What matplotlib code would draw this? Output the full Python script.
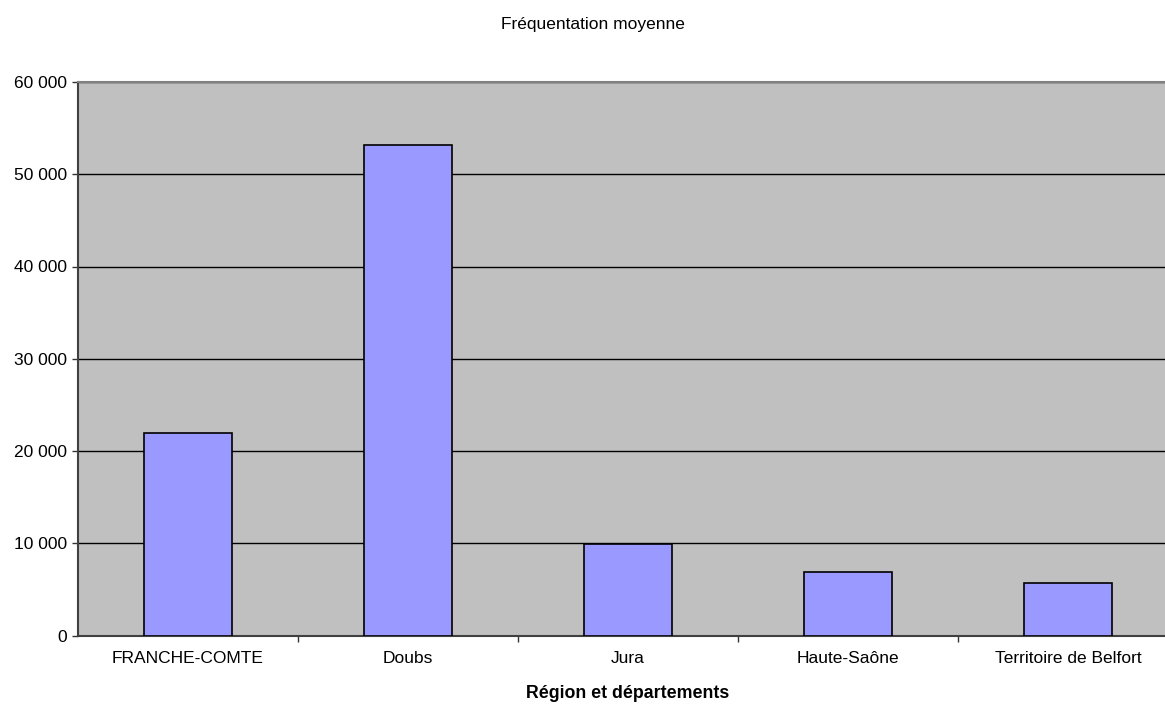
import matplotlib
matplotlib.use("Agg")
import matplotlib.pyplot as plt
from matplotlib.ticker import FuncFormatter, MultipleLocator

plt.rcParams['font.family'] = ['Liberation Sans', 'DejaVu Sans']

categories = ["FRANCHE-COMTE", "Doubs", "Jura", "Haute-Saône", "Territoire de Belfort"]
values = [21900, 53200, 9960, 6900, 5700]
title = "Fréquentation moyenne"
xlabel = "Région et départements"

W, H = 1165, 704
fig = plt.figure(figsize=(W / 100, H / 100), dpi=100)
ax = fig.add_axes([78 / W, 1 - 635.5 / H, 1100 / W, 553.5 / H])
ax.set_facecolor("#C0C0C0")

x = range(len(categories))
ax.bar(x, values, width=0.4, color="#9999FF", edgecolor="black", linewidth=1.2, zorder=3)

ax.set_xlim(-0.5, len(categories) - 0.5)
ax.set_ylim(0, 60000)
ax.yaxis.set_major_locator(MultipleLocator(10000))
ax.yaxis.set_major_formatter(FuncFormatter(lambda v, p: f"{v:,.0f}".replace(",", " ")))
ax.grid(axis="y", color="black", linewidth=1.0, zorder=1)
ax.set_axisbelow(True)

ax.set_xticks([i + 0.5 for i in range(len(categories) - 1)], minor=False)
ax.set_xticklabels([])
ax.set_xticks(list(x), minor=True)
ax.set_xticklabels(categories, minor=True)
ax.tick_params(axis="x", which="minor", length=0, pad=11.5, labelsize=12.5)
ax.tick_params(axis="x", which="major", length=4, width=1, color="#333333", direction="out")
ax.tick_params(axis="y", length=4, width=1, color="#333333", pad=4, labelsize=12.5)

for s in ["left", "bottom"]:
    ax.spines[s].set_color("#404040")
    ax.spines[s].set_linewidth(1.5)
ax.spines["top"].set_color("#808080")
ax.spines["top"].set_linewidth(1.5)
ax.spines["right"].set_visible(False)

xl = ax.set_xlabel(xlabel, fontsize=12.8, fontweight="bold", labelpad=13)
fig.text(593 / W, 1 - 29 / H, title, ha="center", va="baseline", fontsize=12.5)

fig.savefig("out.png", dpi=100)
